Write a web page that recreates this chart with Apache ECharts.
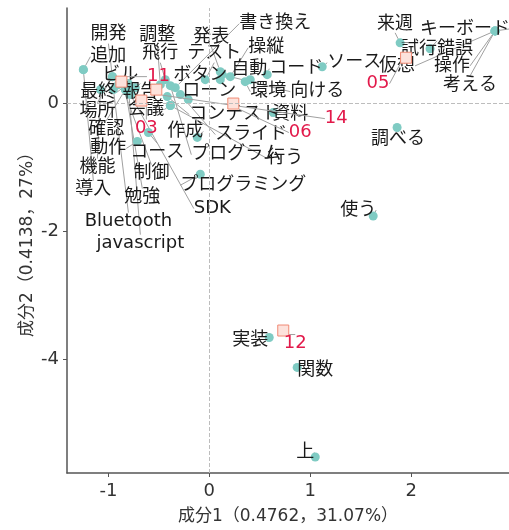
<!DOCTYPE html>
<html><head><meta charset="utf-8">
<script src="https://cdn.jsdelivr.net/npm/echarts@6/dist/echarts.min.js"></script>
<style>html,body{margin:0;padding:0;background:#fff}#c{width:509px;height:530px}</style>
</head><body><div id="c"></div>
<script>
// ---- data ----
const words = ['開発','追加','調整','飛行','発表','書き換え','テスト','操縦','ビル','ボタン','自動','コード','ソース','最終','報告','ローン','環境','向ける','場所','会議','コンテスト','資料','確認','作成','スライド','動作','コース','プログラム','行う','機能','制御','導入','勉強','プログラミング','SDK','Bluetooth','javascript','来週','キーボード','試行錯誤','仮想','操作','考える','調べる','使う','実装','関数','上'];
const wordX = [-0.960,-1.248,-0.485,-0.436,0.109,-0.337,-0.040,0.208,-0.901,0.109,0.406,0.574,1.119,-0.802,-0.733,-0.208,0.356,0.129,-0.960,-0.386,-0.416,0.634,-0.832,-0.119,-0.287,-0.713,-0.604,-0.386,-0.386,-1.079,-0.881,-1.248,-0.832,-0.089,-0.782,-0.950,-0.802,1.891,2.832,2.188,2.832,2.832,2.832,1.861,1.624,0.594,0.871,1.050];
const wordY = [0.421,0.530,0.296,0.374,0.498,0.249,0.374,0.421,0.296,0.374,0.374,0.452,0.576,0.312,0.249,0.062,0.343,0.452,0.421,-0.031,0.109,-0.140,0.218,-0.530,0.140,-0.592,-0.452,0.280,-0.031,0.218,0.343,0.530,0.218,-1.106,0.140,0.218,0.249,0.950,1.137,0.857,1.137,1.137,1.137,-0.374,-1.760,-3.660,-4.128,-5.530];
const docs = ['11','03','14','06','05','12'];
const docX = [-0.871,-0.673,-0.525,0.238,1.950,0.733];
const docY = [0.343,0.047,0.218,0.000,0.717,-3.551];
const xTicks = [-1,0,1,2];
const yTicks = [-4,-2,0];

// ---- label placement (pixel nudges, layout only) ----
const wordNudge = [[-4,-44],[25,-15],[-3,-51],[-5,-28],[-9,-36],[100,-66],[9,-28],[36,-31],[2,-11],[-20,-6],[-1,-12],[29,-8],[32,-6],[-30,7],[5,3],[21,-10],[23,8],[95,15],[-15,33],[-24,2],[67,16],[17,0],[-19,38],[-12,-8],[71,38],[-29,5],[9,18],[66,67],[115,51],[-3,76],[31,90],[10,118],[17,106],[43,9],[82,112],[15,130],[12,154],[-5,-21],[-30,-4],[7,-1],[-98,33],[-43,33],[-25,52],[1,10],[-15,-8],[-19,1],[18,1],[-10,-7]];
const docNudge = [[37,-7],[5,26],[180,27],[67,27],[-28,24],[12,11]];
const NUDGE_Y = 2;

const FONT = '"DejaVu Sans", "Noto Sans CJK JP", sans-serif';
const chart = echarts.init(document.getElementById('c'), null, {renderer:'canvas'});
const lineStyle = {color:'#a0a0a0', width:1};
chart.setOption({
  animation:false,
  backgroundColor:'#fff',
  textStyle:{fontFamily:FONT},
  grid:{left:67, right:0, top:8, bottom:55},
  xAxis:{
    type:'value', min:-1.41, max:2.97,
    name:'成分1（0.4762，31.07%）', nameLocation:'middle', nameGap:35, nameMoveOverlap:false,
    nameTextStyle:{fontSize:17, color:'#333', fontFamily:FONT},
    axisLine:{show:true, onZero:false, lineStyle:{color:'#555', width:1.5}},
    axisTick:{show:true, length:4, customValues:xTicks, lineStyle:{color:'#555'}},
    axisLabel:{customValues:xTicks, fontSize:18, color:'#333', margin:9, fontFamily:FONT},
    splitLine:{show:false}
  },
  yAxis:{
    type:'value', min:-5.78, max:1.495,
    name:'成分2（0.4138，27%）', nameLocation:'middle', nameGap:31, nameMoveOverlap:false,
    nameTextStyle:{fontSize:17, color:'#333', fontFamily:FONT},
    axisLine:{show:true, onZero:false, lineStyle:{color:'#555', width:1.5}},
    axisTick:{show:true, length:4, customValues:yTicks, lineStyle:{color:'#555'}},
    axisLabel:{customValues:yTicks, fontSize:18, color:'#333', margin:8, fontFamily:FONT},
    splitLine:{show:false}
  },
  series:[
    {
      type:'scatter', name:'ref', data:[], silent:true,
      markLine:{silent:true, symbol:'none', label:{show:false},
        lineStyle:{type:'dashed', color:'#bdbdbd', width:1},
        data:[{xAxis:0},{yAxis:0}]}
    },
    {
      type:'scatter', name:'words', symbol:'circle', symbolSize:9,
      itemStyle:{color:'#7fcbc3', opacity:1},
      data: words.map((w,i)=>({name:w, value:[wordX[i], wordY[i]]})),
      label:{show:true, position:'inside', formatter:p=>p.name, color:'#1a1a1a', fontSize:18, fontFamily:FONT},
      labelLine:{show:true, lineStyle:lineStyle},
      labelLayout:p=>({dx:wordNudge[p.dataIndex][0], dy:wordNudge[p.dataIndex][1]+NUDGE_Y}),
      z:3
    },
    {
      type:'scatter', name:'docs', symbol:'rect', symbolSize:11,
      itemStyle:{color:'#fde2dc', borderColor:'#f08a74', borderWidth:1, opacity:1},
      data: docs.map((d,i)=>({name:d, value:[docX[i], docY[i]]})),
      label:{show:true, position:'inside', formatter:p=>p.name, color:'#e2194a', fontSize:18, fontFamily:FONT},
      labelLine:{show:true, lineStyle:lineStyle},
      labelLayout:p=>({dx:docNudge[p.dataIndex][0], dy:docNudge[p.dataIndex][1]+NUDGE_Y}),
      z:4
    }
  ]
});
</script></body></html>
